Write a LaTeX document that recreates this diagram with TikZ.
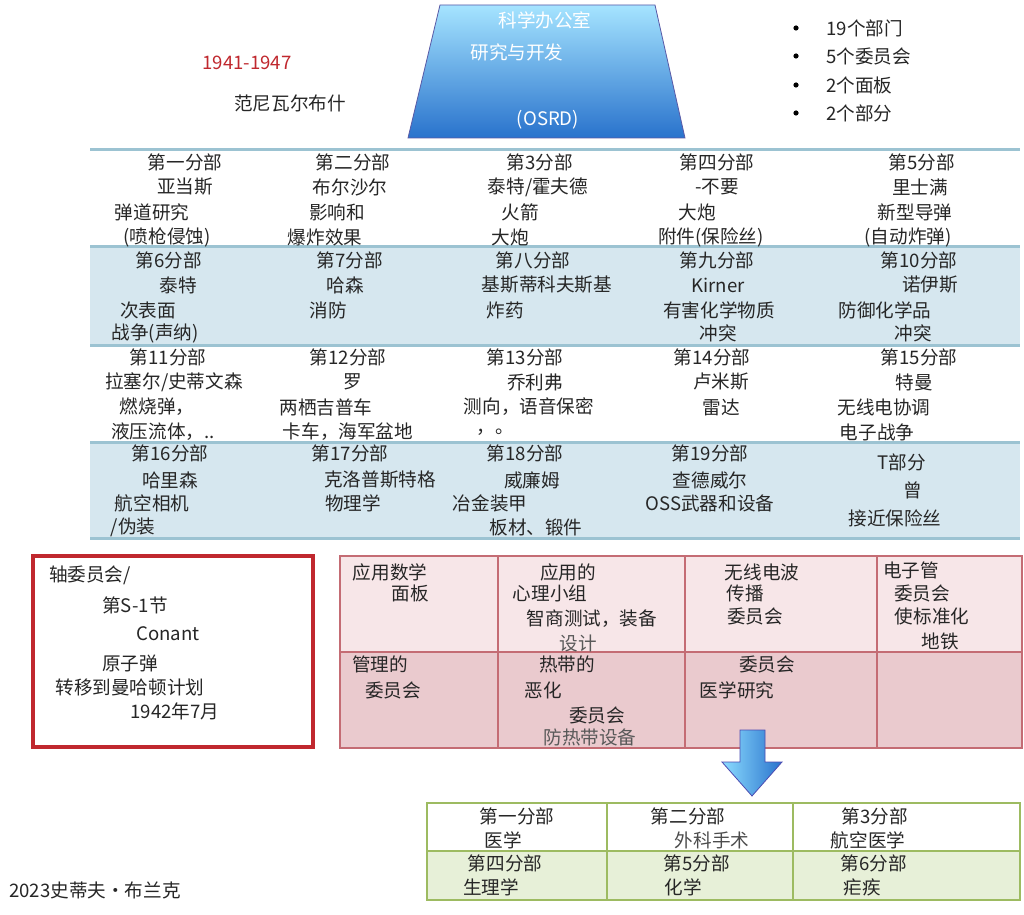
\documentclass[tikz,border=0pt]{standalone}
\usepackage{fontspec}
\setmainfont{Noto Sans CJK SC}
\usetikzlibrary{shapes.arrows}
\definecolor{gridline}{HTML}{9CC3D2}
\definecolor{stripe}{HTML}{D6E7EF}
\definecolor{pinkA}{HTML}{F7E6E8}
\definecolor{pinkB}{HTML}{EACACE}
\definecolor{pinkL}{HTML}{C46C74}
\definecolor{greenL}{HTML}{9DBB61}
\definecolor{greenB}{HTML}{E7F0D8}
\definecolor{redT}{HTML}{C0282E}
\tikzset{t/.style={inner sep=0pt,font=\fontsize{9.3}{10}\selectfont,text=black!85}}
\begin{document}
\begin{tikzpicture}[x=0.5pt,y=-0.5pt]
\useasboundingbox (0,0) rectangle (1024,915);
\fill[white] (0,0) rectangle (1024,915);
% trapezoid
\shade[top color=blue!30!cyan!35!white,bottom color=blue!55!cyan!80!white!80!black,draw=blue!30!gray] (440,5) -- (655,5) -- (685,138) -- (408,138) -- cycle;
\node[t,text=white] (o1) at (545,20) {科学办公室};
\node[t,text=white] (o2) at (517,52) {研究与开发};
\node[t,text=white] (o3) at (548,120) {(OSRD)};
\node[t,text=redT] (yr) at (247,63) {1941-1947};
\node[t] (vb) at (290,103) {范尼瓦尔布什};
\foreach \i/\s [count=\k] in {28/19个部门,56/5个委员会,85/2个面板,113/2个部分}{
  \fill[black] (796,\i) circle (2.6);
  \node[t,anchor=west] (b\k) at (826,\i) {\s};}
% grid
\fill[stripe] (90,247) rectangle (1020,345);
\fill[stripe] (90,442) rectangle (1020,538);
\foreach \y in {150,247,345,442,538}{\draw[gridline,line width=1.5pt] (90,\y) -- (1020,\y);}
% row1
\node[t] (r1a) at (185,162) {第一分部};\node[t] (r1b) at (185,187) {亚当斯};\node[t] (r1c) at (152,212) {弹道研究};\node[t] (r1d) at (167,237) {(喷枪侵蚀)};
\node[t] (r1e) at (353,162) {第二分部};\node[t] (r1f) at (350,187) {布尔沙尔};\node[t] (r1g) at (337,212) {影响和};\node[t] (r1h) at (325,237) {爆炸效果};
\node[t] (r1i) at (540,162) {第3分部};\node[t] (r1j) at (538,187) {泰特/霍夫德};\node[t] (r1k) at (520,212) {火箭};\node[t] (r1l) at (510,237) {大炮};
\node[t] (r1m) at (717,162) {第四分部};\node[t] (r1n) at (717,187) {-不要};\node[t] (r1o) at (697,212) {大炮};\node[t] (r1p) at (711,237) {附件(保险丝)};
\node[t] (r1q) at (922,162) {第5分部};\node[t] (r1r) at (920,187) {里士满};\node[t] (r1s) at (915,212) {新型导弹};\node[t] (r1t) at (908,237) {(自动炸弹)};
% row2
\node[t] (r2a) at (169,260) {第6分部};\node[t] (r2b) at (178,285) {泰特};\node[t] (r2c) at (148,310) {次表面};\node[t] (r2d) at (155,333) {战争(声纳)};
\node[t] (r2e) at (350,260) {第7分部};\node[t] (r2f) at (345,285) {哈森};\node[t] (r2g) at (328,310) {消防};
\node[t] (r2h) at (533,260) {第八分部};\node[t] (r2i) at (547,285) {基斯蒂科夫斯基};\node[t] (r2j) at (505,310) {炸药};
\node[t] (r2k) at (717,260) {第九分部};\node[t] (r2l) at (718,285) {Kirner};\node[t] (r2m) at (719,310) {有害化学物质};\node[t] (r2n) at (718,333) {冲突};
\node[t] (r2o) at (919,260) {第10分部};\node[t] (r2p) at (930,285) {诺伊斯};\node[t] (r2q) at (885,310) {防御化学品};\node[t] (r2r) at (913,333) {冲突};
% row3
\node[t] (r3a) at (168,357) {第11分部};\node[t] (r3b) at (174,382) {拉塞尔/史蒂文森};\node[t] (r3c) at (157,407) {燃烧弹，};\node[t] (r3d) at (163,432) {液压流体，..};
\node[t] (r3e) at (348,357) {第12分部};\node[t] (r3f) at (353,382) {罗};\node[t] (r3g) at (326,407) {两栖吉普车};\node[t] (r3h) at (348,432) {卡车，海军盆地};
\node[t] (r3i) at (525,357) {第13分部};\node[t] (r3j) at (535,382) {乔利弗};\node[t] (r3k) at (529,407) {测向，语音保密};\node[t] (r3l) at (495,432) {，。};
\node[t] (r3m) at (712,357) {第14分部};\node[t] (r3n) at (721,382) {卢米斯};\node[t] (r3o) at (721,407) {雷达};
\node[t] (r3p) at (919,357) {第15分部};\node[t] (r3q) at (914,382) {特曼};\node[t] (r3r) at (884,407) {无线电协调};\node[t] (r3s) at (877,432) {电子战争};
% row4
\node[t] (r4a) at (170,453) {第16分部};\node[t] (r4b) at (170,480) {哈里森};\node[t] (r4c) at (152,503) {航空相机};\node[t] (r4d) at (133,527) {/伪装};
\node[t] (r4e) at (350,453) {第17分部};\node[t] (r4f) at (380,480) {克洛普斯特格};\node[t] (r4g) at (353,503) {物理学};
\node[t] (r4h) at (525,453) {第18分部};\node[t] (r4i) at (532,480) {威廉姆};\node[t] (r4j) at (490,503) {冶金装甲};\node[t] (r4k) at (536,527) {板材、锻件};
\node[t] (r4l) at (710,453) {第19分部};\node[t] (r4m) at (710,480) {查德威尔};\node[t] (r4n) at (710,503) {OSS武器和设备};
\node[t] (r4o) at (902,462) {T部分};\node[t] (r4p) at (913,490) {曾};\node[t] (r4q) at (895,518) {接近保险丝};
% red box
\draw[redT,line width=1.6pt] (33,556) rectangle (313,747);
\node[t] (s1) at (90,575) {轴委员会/};\node[t] (s2) at (135,605) {第S-1节};\node[t] (s3) at (168,634) {Conant};
\node[t] (s4) at (130,663) {原子弹};\node[t] (s5) at (130,687) {转移到曼哈顿计划};\node[t] (s6) at (175,711) {1942年7月};
% pink table
\fill[pinkA] (340,556) rectangle (1022,652);
\fill[pinkB] (340,652) rectangle (1022,748);
\draw[pinkL,line width=0.8pt] (340,556) rectangle (1022,748) (340,652) -- (1022,652)
  (498,556) -- (498,748) (685,556) -- (685,748) (877,556) -- (877,748);
\node[t] (p1) at (390,572) {应用数学};\node[t] (p2) at (410,593) {面板};
\node[t] (p3) at (568,572) {应用的};\node[t] (p4) at (550,593) {心理小组};\node[t] (p5) at (592,619) {智商测试，装备};\node[t,text=black!65] (p6) at (578,643) {设计};
\node[t] (p7) at (762,572) {无线电波};\node[t] (p8) at (745,593) {传播};\node[t] (p9) at (755,616) {委员会};
\node[t] (p10) at (911,570) {电子管};\node[t] (p11) at (922,593) {委员会};\node[t] (p12) at (932,616) {使标准化};\node[t] (p13) at (940,641) {地铁};
\node[t] (p14) at (380,664) {管理的};\node[t] (p15) at (393,690) {委员会};
\node[t] (p16) at (567,664) {热带的};\node[t] (p17) at (543,690) {恶化};\node[t] (p18) at (597,715) {委员会};\node[t,text=black!65] (p19) at (590,737) {防热带设备};
\node[t] (p20) at (767,664) {委员会};\node[t] (p21) at (737,690) {医学研究};
% arrow
\shade[left color=blue!30!cyan!45!white,right color=blue!55!cyan!80!white!80!black,draw=blue!40!gray] (740,730) -- (765,730) -- (765,762) -- (782,762) -- (752,796) -- (722,762) -- (740,762) -- cycle;
% green table
\fill[greenB] (427,851) rectangle (1020,900);
\draw[greenL,line width=0.8pt] (427,803) rectangle (1020,900) (427,851) -- (1020,851) (607,803) -- (607,900) (793,803) -- (793,900);
\node[t] (g1) at (517,816) {第一分部};\node[t] (g2) at (503,840) {医学};
\node[t] (g3) at (688,816) {第二分部};\node[t,text=black!70] (g4) at (712,840) {外科手术};
\node[t] (g5) at (875,816) {第3分部};\node[t] (g6) at (868,840) {航空医学};
\node[t] (g7) at (505,863) {第四分部};\node[t] (g8) at (491,887) {生理学};
\node[t] (g9) at (697,863) {第5分部};\node[t] (g10) at (683,887) {化学};
\node[t] (g11) at (874,863) {第6分部};\node[t] (g12) at (862,887) {疟疾};
\node[t] (cr) at (95,890) {2023史蒂夫·布兰克};
\end{tikzpicture}
\end{document}
